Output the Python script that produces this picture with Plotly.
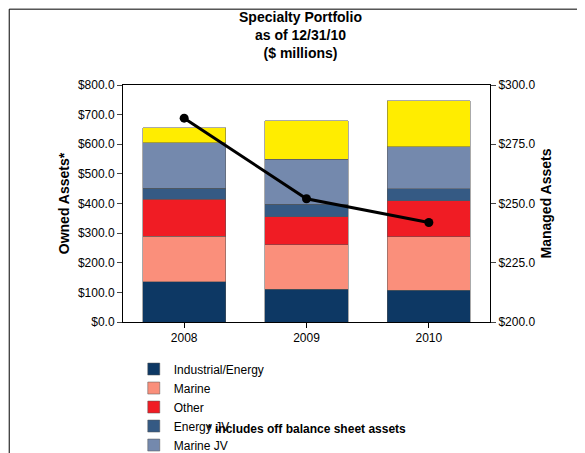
import plotly.graph_objects as go

years = ["2008", "2009", "2010"]
industrial = [136, 111, 108]
marine = [154, 149, 179]
other = [125, 95, 122]
energy_jv = [37, 43, 40]
marine_jv = [153, 152, 142]
aircraft_jv = [50, 129, 156]
managed = [286, 252, 242]

fig = go.Figure()
series = [
    ("Industrial/Energy", industrial, "#0d3864"),
    ("Marine", marine, "#fa8f7b"),
    ("Other", other, "#f01c24"),
    ("Energy JV", energy_jv, "#355a84"),
    ("Marine JV", marine_jv, "#7489ad"),
    ("Aircraft Engine Leasing JV", aircraft_jv, "#ffed00"),
]
for name, vals, col in series:
    fig.add_trace(go.Bar(x=years, y=vals, name=name, marker=dict(color=col, line=dict(color="#555", width=0.5))))

fig.add_trace(go.Scatter(x=years, y=managed, name="Managed Assets", yaxis="y2",
                         mode="lines+markers", line=dict(color="black", width=3),
                         marker=dict(size=9, color="black")))

fig.update_layout(
    width=585, height=453, barmode="stack", bargap=0.32,
    paper_bgcolor="white", plot_bgcolor="white",
    font=dict(family="Arial, Liberation Sans", size=12, color="black"),
    title=dict(text="<b>Specialty Portfolio<br>as of 12/31/10<br>($ millions)</b>",
               x=0.5, yref="container", y=0.97, xanchor="center", yanchor="top", font=dict(size=14)),
    margin=dict(l=115, r=103, t=77, b=139, autoexpand=False),
    xaxis=dict(showline=True, linecolor="black", mirror=True, ticks="outside", tickcolor="black"),
    yaxis=dict(range=[0, 800], dtick=100, tickprefix="$", tickformat=".1f",
               showgrid=False, showline=True, linecolor="black", ticks="outside",
               title=dict(text="<b>Owned Assets*</b>", standoff=4)),
    yaxis2=dict(range=[200, 300], dtick=25, tickprefix="$", tickformat=".1f",
                overlaying="y", side="right", showgrid=False, showline=True,
                linecolor="black", ticks="outside",
                title=dict(text="<b>Managed Assets</b>", standoff=6)),
    legend=dict(orientation="h", x=0.215, y=0.235, xref="container", yref="container",
                xanchor="left", yanchor="top", tracegroupgap=0,
                entrywidth=170, entrywidthmode="pixels", traceorder="normal",
                font=dict(size=12), itemwidth=30),
    annotations=[dict(text="<b>* includes off balance sheet assets</b>", xref="paper", yref="paper",
                      x=0.5, y=-0.49, showarrow=False, font=dict(size=12))],
    shapes=[dict(type="rect", xref="paper", yref="paper", x0=-0.31, x1=1.275, y0=-0.58, y1=1.32,
                 line=dict(color="black", width=1))],
)
fig.write_html("out.html")
